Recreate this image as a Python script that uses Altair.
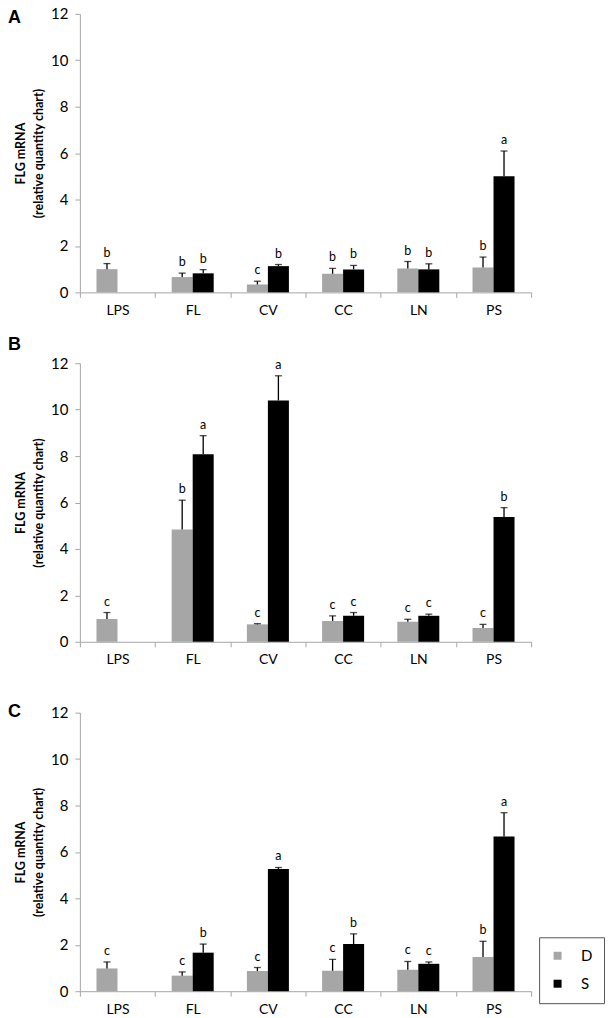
import altair as alt
import pandas as pd

tissues = ["LPS", "FL", "CV", "CC", "LN", "PS"]
groups = ["D", "S"]
y_ticks = [0, 2, 4, 6, 8, 10, 12]

# Panel A
a_d_mean = [1.00, 0.66, 0.34, 0.80, 1.03, 1.07]
a_d_err = [0.24, 0.17, 0.14, 0.23, 0.30, 0.45]
a_d_sig = ["b", "b", "c", "b", "b", "b"]
a_s_mean = [None, 0.82, 1.13, 0.99, 0.99, 5.00]
a_s_err = [None, 0.16, 0.07, 0.17, 0.24, 1.09]
a_s_sig = [None, "b", "b", "b", "b", "a"]

# Panel B
b_d_mean = [0.98, 4.84, 0.75, 0.90, 0.86, 0.59]
b_d_err = [0.28, 1.26, 0.03, 0.22, 0.11, 0.16]
b_d_sig = ["c", "b", "c", "c", "c", "c"]
b_s_mean = [None, 8.08, 10.40, 1.12, 1.12, 5.38]
b_s_err = [None, 0.80, 1.06, 0.14, 0.07, 0.40]
b_s_sig = [None, "a", "a", "c", "c", "b"]

# Panel C
c_d_mean = [0.98, 0.67, 0.87, 0.88, 0.92, 1.47]
c_d_err = [0.28, 0.16, 0.15, 0.49, 0.36, 0.68]
c_d_sig = ["c", "c", "c", "c", "c", "b"]
c_s_mean = [None, 1.66, 5.26, 2.03, 1.18, 6.67]
c_s_err = [None, 0.37, 0.07, 0.44, 0.08, 1.02]
c_s_sig = [None, "b", "a", "b", "c", "a"]

y_title = ["FLG mRNA", "(relative quantity chart)"]
AXIS_GRAY = "#a6a6a6"
FONT = "Lato"


def make_df(d_mean, d_err, d_sig, s_mean, s_err, s_sig):
    rows = []
    for i, t in enumerate(tissues):
        for g, m, e, s in (("D", d_mean, d_err, d_sig), ("S", s_mean, s_err, s_sig)):
            if m[i] is None:
                continue
            rows.append({"tissue": t, "group": g, "value": m[i], "err": e[i],
                         "hi": m[i] + e[i], "sig": s[i]})
    return pd.DataFrame(rows)


def panel(df, letter, letter_y, legend):
    base = alt.Chart(df)
    x = alt.X("tissue:N", sort=tissues,
              scale=alt.Scale(domain=tissues, paddingInner=0, paddingOuter=0),
              axis=alt.Axis(title=None, labelAngle=0, tickBand="extent", tickSize=5,
                            tickColor=AXIS_GRAY, domainColor=AXIS_GRAY, labelPadding=6,
                            labelFontSize=14, labelFont=FONT, labelColor="#000000"))
    xo = alt.XOffset("group:N", sort=groups,
                     scale=alt.Scale(domain=groups, paddingInner=0, paddingOuter=0.79))
    y = alt.Y("value:Q", scale=alt.Scale(domain=[0, 12], nice=False),
              axis=alt.Axis(values=y_ticks, grid=False, title=y_title, tickSize=5,
                            tickColor=AXIS_GRAY, domainColor=AXIS_GRAY, labelPadding=7,
                            labelFontSize=15, labelFont=FONT, labelColor="#000000",
                            titleFont=FONT, titleFontSize=12.5, titleFontWeight="bold",
                            titleColor="#000000", titleLineHeight=18, titlePadding=5))
    color = alt.Color("group:N", sort=groups,
                      scale=alt.Scale(domain=groups, range=["#a6a6a6", "#000000"]),
                      legend=legend)
    bars = base.mark_bar().encode(x=x, xOffset=xo, y=y, color=color)
    whisk = base.mark_rule(color="#000000", strokeWidth=1.3).encode(
        x=x, xOffset=xo, y="value:Q", y2="hi:Q")
    cap = base.mark_tick(color="#000000", thickness=1.3, size=7).encode(
        x=x, xOffset=xo, y="hi:Q")
    txt = base.mark_text(baseline="bottom", dy=-4, fontSize=12.5, font=FONT,
                         color="#000000").encode(x=x, xOffset=xo, y="hi:Q", text="sig:N")
    lab = alt.Chart(pd.DataFrame({"t": [letter]})).mark_text(
        align="left", baseline="alphabetic", fontSize=18, fontWeight="bold",
        font="Liberation Sans", color="#000000").encode(
        x=alt.value(-72), y=alt.value(letter_y), text="t:N")
    return alt.layer(bars, whisk, cap, txt, lab).properties(width=452, height=279)


df_a = make_df(a_d_mean, a_d_err, a_d_sig, a_s_mean, a_s_err, a_s_sig)
df_b = make_df(b_d_mean, b_d_err, b_d_sig, b_s_mean, b_s_err, b_s_sig)
df_c = make_df(c_d_mean, c_d_err, c_d_sig, c_s_mean, c_s_err, c_s_sig)

leg = alt.Legend(title=None, orient="none", legendX=460, legendY=225,
                 symbolType="square", symbolSize=64, symbolStrokeWidth=0,
                 labelFontSize=15, labelFont=FONT, labelColor="#000000",
                 labelOffset=16, rowPadding=12, padding=11,
                 strokeColor="#555555", fillColor="#ffffff")

chart = alt.vconcat(
    panel(df_a, "A", 9, None),
    panel(df_b, "B", -13, None),
    panel(df_c, "C", 4, leg),
    spacing=71, bounds="flush",
).resolve_legend(color="independent").properties(
    padding={"left": 0, "top": -2, "right": 0, "bottom": 0}
).configure_view(stroke=None)

chart.save("out.html", embed_options={"renderer": "svg", "actions": False})
